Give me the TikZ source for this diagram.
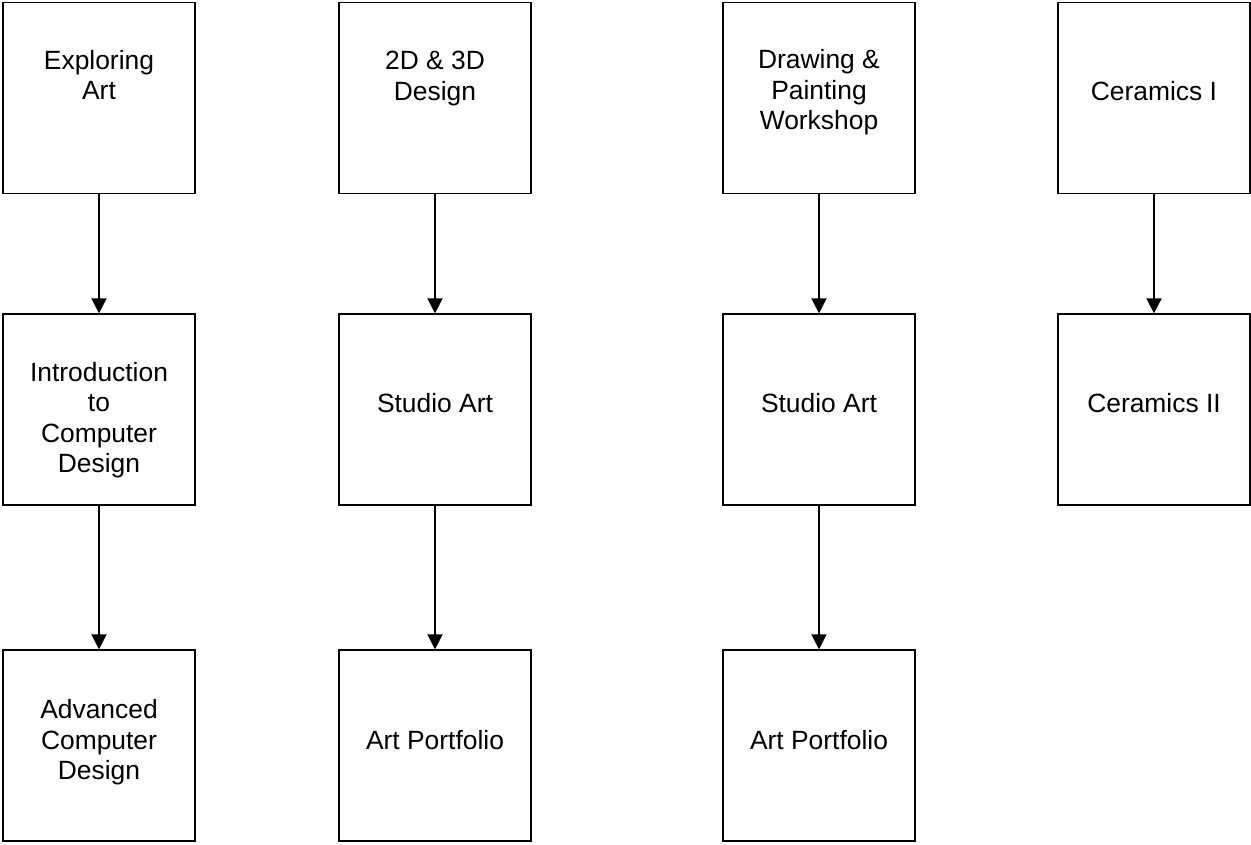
\documentclass[tikz,border=0pt]{standalone}
\usepackage{fontspec}
\setmainfont{Liberation Sans}
\usetikzlibrary{arrows.meta}
\tikzset{
  box/.style={draw=black, line width=1.8pt, fill=white, minimum width=192pt, minimum height=191pt, inner sep=0pt},
  txt/.style={anchor=north, align=center, inner sep=0pt, font=\fontsize{26.4}{30.6}\selectfont},
  arr/.style={draw=black, line width=1.5pt, -{Triangle[width=15pt,length=15pt]}}
}
\begin{document}
\begin{tikzpicture}[x=1pt,y=-1pt]
\useasboundingbox (0,0) rectangle (1251,844);
% column 1
\node[box] (a1) at (99,98) {};
\node[box] (a2) at (99,409.8) {};
\node[box] (a3) at (99,745.8) {};
% column 2
\node[box] (b1) at (435,98) {};
\node[box] (b2) at (435,409.8) {};
\node[box] (b3) at (435,745.8) {};
% column 3
\node[box] (c1) at (819,98) {};
\node[box] (c2) at (819,409.8) {};
\node[box] (c3) at (819,745.8) {};
% column 4
\node[box] (d1) at (1154,98) {};
\node[box] (d2) at (1154,409.8) {};
% texts
\node[txt] (ta1) at (99,50) {Exploring\\Art};
\node[txt] (ta2) at (99,361.7) {Introduction\\to\\Computer\\Design};
\node[txt] (ta3) at (99,699.3) {Advanced\\Computer\\Design};
\node[txt] (tb1) at (435,51) {2D \& 3D\\Design};
\node[txt] (tb2) at (435,392.7) {Studio Art};
\node[txt] (tb3) at (435,730) {Art Portfolio};
\node[txt] (tc1) at (819,49.3) {Drawing \&\\Painting\\Workshop};
\node[txt] (tc2) at (819,392.7) {Studio Art};
\node[txt] (tc3) at (819,730) {Art Portfolio};
\node[txt] (td1) at (1154,81) {Ceramics I};
\node[txt] (td2) at (1154,392.7) {Ceramics II};
% arrows
\draw[arr] (a1) -- (a2);
\draw[arr] (a2) -- (a3);
\draw[arr] (b1) -- (b2);
\draw[arr] (b2) -- (b3);
\draw[arr] (c1) -- (c2);
\draw[arr] (c2) -- (c3);
\draw[arr] (d1) -- (d2);
\end{tikzpicture}
\end{document}
